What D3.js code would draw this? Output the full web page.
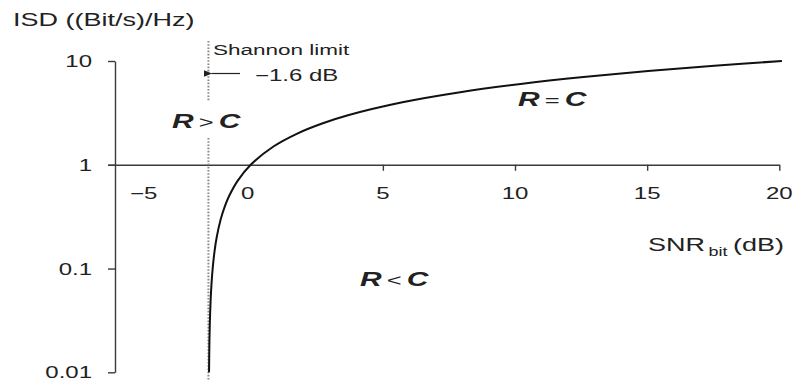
<!DOCTYPE html>
<html>
<head>
<meta charset="utf-8">
<script src="https://cdn.jsdelivr.net/npm/d3@7"></script>
<style>
  html, body { margin: 0; padding: 0; background: #fff; }
  svg { display: block; }
  text { font-family: "Liberation Sans", Arial, Helvetica, sans-serif; fill: #222; }
</style>
</head>
<body>
<svg id="chart" width="795" height="381"></svg>
<script>
// Spectral efficiency limit: ISD (bit/s/Hz) against SNR per bit (dB)
const isdValues = [0.01, 0.015, 0.02, 0.03, 0.05, 0.07, 0.1, 0.15, 0.2, 0.3, 0.4, 0.5, 0.7,
                   1, 1.5, 2, 2.5, 3, 4, 5, 6, 7, 8, 9, 10];
const snrBitDb  = [-1.577, -1.569, -1.562, -1.547, -1.516, -1.486, -1.440, -1.364, -1.287, -1.133, -0.976, -0.817, -0.496,
                   0, 0.860, 1.761, 2.702, 3.680, 5.740, 7.924, 10.212, 12.587, 15.034, 17.542, 20.099];

const xTickValues = [-5, 0, 5, 10, 15, 20];
const xTickLabels = ["\u22125", "0", "5", "10", "15", "20"];
const yTickValues = [0.01, 0.1, 1, 10];
const yTickLabels = ["0.01", "0.1", "1", "10"];

const shannonLimitDb = -1.6;

const svg = d3.select("#chart");
const STRETCH = 1.5;   // wide lettering used throughout the figure

const x = d3.scaleLinear().domain([-5.4, 20]).range([108, 779.3]);
const y = d3.scaleLog().domain([0.01, 10]).range([372.3, 61]);
const axisX = 115;     // vertical axis position
const axisColor = "#3a3a3a";

// stretched text helper
function label(px, py, anchor, size, weight) {
  const g = svg.append("g").attr("transform", `translate(${px},${py})`);
  return g.append("text")
    .attr("transform", `scale(${STRETCH},1)`)
    .attr("text-anchor", anchor || "start")
    .style("font-size", (size || 16) + "px")
    .style("font-weight", weight || "normal");
}

// ---- y axis (log) ----
const yAxis = d3.axisLeft(y).tickValues(yTickValues).tickSize(7).tickSizeOuter(0).tickFormat("");
const gy = svg.append("g").attr("transform", `translate(${axisX},0)`).call(yAxis);
gy.selectAll("path, line").attr("stroke", axisColor).attr("stroke-width", 1.4);
yTickValues.forEach((v, i) => {
  label(92, y(v) + 6, "end", 16).text(yTickLabels[i]);
});

// ---- x axis at ISD = 1 ----
const xAxis = d3.axisBottom(x).tickValues(xTickValues).tickSize(6).tickSizeOuter(0).tickFormat("");
const gx = svg.append("g").attr("transform", `translate(0,${y(1)})`).call(xAxis);
gx.selectAll("path, line").attr("stroke", axisColor).attr("stroke-width", 1.4);
gx.selectAll(".tick").filter(d => d <= 0).select("line").remove();
xTickValues.forEach((v, i) => {
  const px = v === -5 ? x(v) + 25 : (v === 0 ? x(v) - 3 : x(v));
  label(px, y(1) + 34, "middle", 16).text(xTickLabels[i]);
});

// ---- Shannon limit marker ----
const xs = x(shannonLimitDb);
[[41, 101], [138, 381]].forEach(([a, b]) => {
  svg.append("line")
    .attr("x1", xs).attr("x2", xs).attr("y1", a).attr("y2", b)
    .attr("stroke", "#8a8a8a").attr("stroke-width", 2)
    .attr("stroke-dasharray", "1.6,1.6");
});

// arrow pointing at the limit
svg.append("defs").append("marker")
  .attr("id", "arrowhead").attr("viewBox", "0 0 10 10")
  .attr("refX", 1).attr("refY", 5)
  .attr("markerWidth", 7).attr("markerHeight", 7)
  .attr("orient", "auto-start-reverse")
  .append("path").attr("d", "M10,1 L0,5 L10,9 Z").attr("fill", "#222");
svg.append("line")
  .attr("x1", xs + 3).attr("x2", 240).attr("y1", 73.5).attr("y2", 73.5)
  .attr("stroke", "#222").attr("stroke-width", 1.2)
  .attr("marker-start", "url(#arrowhead)");

label(213, 55, "start", 15).text("Shannon limit");
label(255, 81, "start", 16).text("\u2212" + Math.abs(shannonLimitDb).toFixed(1) + " dB");

// ---- capacity curve ----
const curvePoints = isdValues.map((v, i) => [snrBitDb[i], v]);
svg.append("path")
  .datum(curvePoints)
  .attr("fill", "none")
  .attr("stroke", "#111")
  .attr("stroke-width", 2)
  .attr("d", d3.line().x(d => x(d[0])).y(d => y(d[1])).curve(d3.curveCatmullRom.alpha(0.5)));

// ---- region labels ----
function relation(px, py, op) {
  const t = label(px, py, "start", 20);
  t.append("tspan").style("font-weight", "bold").style("font-style", "italic").text("R");
  t.append("tspan").style("font-size", "17px").text("\u2009" + op + "\u2009");
  t.append("tspan").style("font-weight", "bold").style("font-style", "italic").text("C");
}
relation(172, 128, ">");
relation(518, 106, "=");
relation(360, 286, "<");

// ---- axis titles ----
label(13, 26, "start", 18).text("ISD ((Bit/s)/Hz)");
const xt = label(648, 251, "start", 18);
xt.append("tspan").text("SNR");
xt.append("tspan").attr("dy", 5).style("font-size", "12px").text("\u2009bit");
xt.append("tspan").attr("dy", -5).text("\u2009(dB)");
</script>
</body>
</html>
